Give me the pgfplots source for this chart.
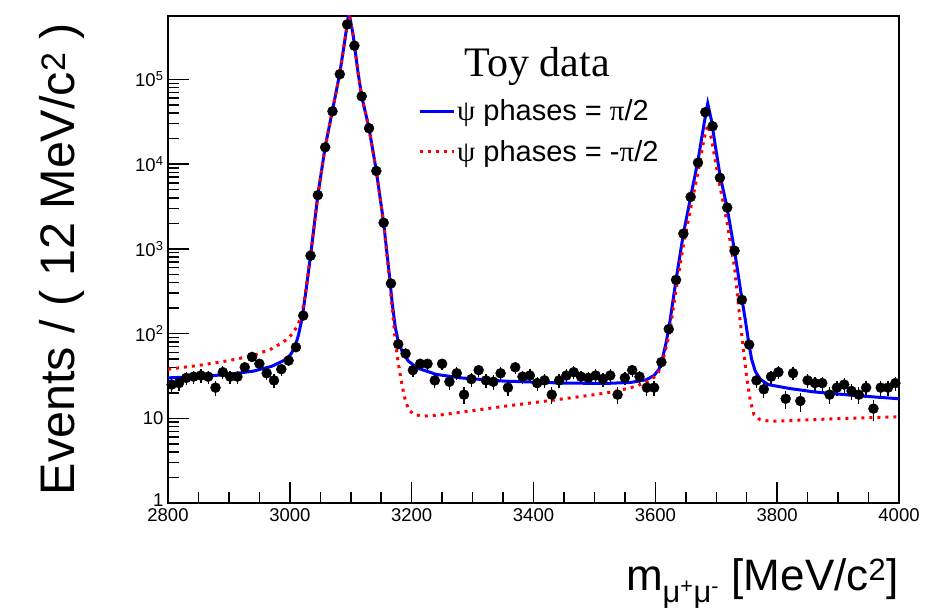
\documentclass[border=0pt]{standalone}
\usepackage{fontspec}
\setmainfont{Liberation Sans}
\newfontfamily\seriffont{Liberation Serif}
\usepackage{pgfplots}
\pgfplotsset{compat=1.18}
\usepackage{pgfplotstable}

% binned toy data: bin centre, entries, Poisson error
\pgfplotstableread{
m n e
2806 25 5.0
2818 26 5.1
2830 30 5.5
2842 31 5.6
2854 32 5.7
2866 31 5.6
2878 23 4.8
2890 35 5.9
2902 31 5.6
2914 31 5.6
2926 40 6.3
2938 53 7.3
2950 44 6.6
2962 34 5.8
2974 28 5.3
2986 38 6.2
2998 48 6.9
3010 69 8.3
3022 163 12.8
3034 830 28.8
3046 4300 65.6
3058 15800 125.7
3070 42000 204.9
3082 115000 339.1
3094 445000 667.1
3106 250000 500.0
3118 63000 251.0
3130 26500 162.8
3142 8300 91.1
3154 2030 45.1
3166 390 19.7
3178 75 8.7
3190 58 7.6
3202 37 6.1
3214 44 6.6
3226 44 6.6
3238 28 5.3
3250 44 6.6
3262 27 5.2
3274 34 5.8
3286 19 4.4
3298 29 5.4
3310 37 6.1
3322 28 5.3
3334 27 5.2
3346 34 5.8
3358 23 4.8
3370 40 6.3
3382 31 5.6
3394 32 5.7
3406 26 5.1
3418 28 5.3
3430 19 4.4
3442 28 5.3
3454 32 5.7
3466 35 5.9
3478 31 5.6
3490 30 5.5
3502 32 5.7
3514 29 5.4
3526 32 5.7
3538 19 4.4
3550 30 5.5
3562 37 6.1
3574 31 5.6
3586 23 4.8
3598 23 4.8
3610 46 6.8
3622 113 10.6
3634 430 20.7
3646 1510 38.9
3658 4100 64.0
3670 10400 102.0
3682 41000 202.5
3694 28000 167.3
3706 6900 83.1
3718 3070 55.4
3730 950 30.8
3742 250 15.8
3754 74 8.6
3766 28 5.3
3778 22 4.7
3790 31 5.6
3802 35 5.9
3814 17 4.1
3826 34 5.8
3838 16 4.0
3850 28 5.3
3862 26 5.1
3874 26 5.1
3886 19 4.4
3898 23 4.8
3910 25 5.0
3922 21 4.6
3934 19 4.4
3946 23 4.8
3958 13 3.6
3970 23 4.8
3982 23 4.8
3994 26 5.1
}\datatable

% fit with psi phases = pi/2
\pgfplotstableread{
m f
2800 30
2850 31
2900 33
2940 36
2970 41
2990 48
3000 55
3008 68
3014 95
3020 150
3026 300
3034 830
3046 4300
3058 16000
3070 43000
3082 118000
3090 280000
3097 620000
3104 330000
3112 120000
3118 63000
3130 26500
3142 8300
3154 2030
3163 520
3168 230
3173 120
3178 80
3185 60
3195 47
3210 39
3240 33
3280 30
3350 27.5
3450 26
3520 25.8
3560 26.5
3585 28.5
3598 32
3606 38
3612 52
3618 80
3624 140
3634 430
3646 1500
3658 4100
3670 11000
3680 30000
3686 52000
3692 33000
3700 14000
3706 7500
3718 3000
3730 950
3742 260
3748 140
3753 80
3758 50
3764 36
3772 29
3785 25
3820 22.5
3860 20.5
3930 18.5
4000 17
}\fitplus

% fit with psi phases = -pi/2
\pgfplotstableread{
m f
2800 38
2850 42
2900 48
2940 55
2970 66
2990 80
3005 100
3014 130
3020 170
3026 320
3034 830
3046 4300
3058 16000
3070 43000
3082 118000
3090 280000
3097 620000
3104 330000
3112 120000
3118 63000
3130 26500
3142 8300
3154 2000
3163 480
3168 200
3172 100
3177 50
3182 30
3188 18
3195 12.5
3205 11
3220 10.6
3250 11
3300 12.3
3350 13.8
3400 15.3
3450 17
3500 19
3530 20.5
3560 23
3580 25.6
3595 29
3605 35
3612 48
3618 70
3624 110
3634 330
3646 1100
3658 3000
3670 8000
3680 20000
3686 29000
3692 20000
3700 9500
3706 5500
3718 2000
3730 600
3738 170
3744 70
3750 30
3756 16
3762 11
3772 9.6
3790 9.2
3850 9.6
3920 10
4000 10.4
}\fitminus

\begin{document}
\begin{tikzpicture}
\begin{semilogyaxis}[
  scale only axis, width=731pt, height=487pt,
  xmin=2800, xmax=4000, ymin=1, ymax=5.6e5,
  xtick={2800,3000,...,4000}, minor x tick num=3,
  ytick={1,10,100,1000,10000,100000},
  yticklabels={\raisebox{5pt}{1},10,\mbox{10\textsuperscript{2}},\mbox{10\textsuperscript{3}},\mbox{10\textsuperscript{4}},\mbox{10\textsuperscript{5}}},
  tick pos=left, tick align=inside,
  major tick length=21pt, minor tick length=11pt,
  axis line style={line width=2pt},
  tick style={line width=1.5pt, black},
  ticklabel style={font=\fontsize{18.5}{18.5}\selectfont},
  xticklabel style={/pgf/number format/1000 sep={}, /pgf/number format/assume math mode=true, yshift=-2pt},
  yticklabel style={xshift=-1pt},
  legend style={at={(axis description cs:0.342,0.763)}, anchor=west, draw=none, fill=none,
    font=\fontsize{29}{32}\selectfont, row sep=14pt, inner sep=0pt},
  legend cell align=left,
  legend image code/.code={\draw[#1] (0pt,0pt) -- (34pt,0pt);},
]
\coordinate (bl) at (rel axis cs:0,0);
\addplot[forget plot, only marks, mark=*, mark size=5pt, black,
  error bars/.cd, y dir=both, y explicit, error mark=none,
  error bar style={line width=1.3pt, black}]
  table[x=m, y=n, y error=e] {\datatable};
\addplot[blue, line width=3pt] table[x=m, y=f] {\fitplus};
\addlegendentry{{\seriffont ψ} phases = {\seriffont π}/2}
\addplot[red, line width=3pt, dash pattern=on 3pt off 5pt] table[x=m, y=f] {\fitminus};
\addlegendentry{{\seriffont ψ} phases = -{\seriffont π}/2}
\node[anchor=base, font=\seriffont\fontsize{42}{42}\selectfont] at (axis description cs:0.505,0.875) {Toy data};
\end{semilogyaxis}
\node[rotate=90, anchor=base, font=\fontsize{48.5}{48.5}\selectfont] at ([shift={(-93pt,244pt)}]bl) {Events / ( 12 MeV/c\textsuperscript{2} )};
\node[anchor=base east, font=\fontsize{44}{44}\selectfont] at ([shift={(734pt,-87pt)}]bl) {m\textsubscript{μ\textsuperscript{+}μ\textsuperscript{-}} [MeV/c\textsuperscript{2}]};
\path ([shift={(-168pt,-103pt)}]bl) rectangle ++(933pt,606pt);
\end{tikzpicture}
\end{document}
